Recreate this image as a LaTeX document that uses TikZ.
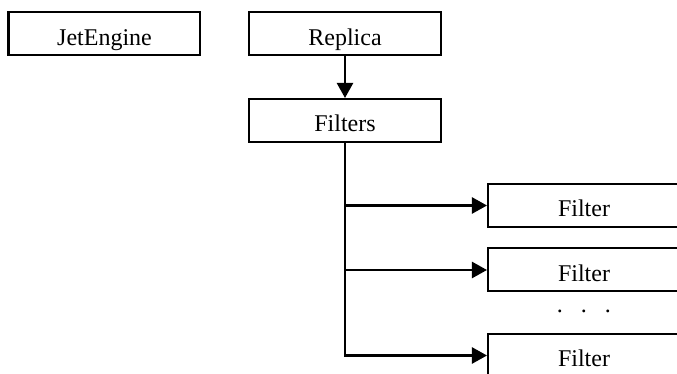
\documentclass[tikz,border=0pt]{standalone}
\usepackage{fontspec}
\setmainfont{Liberation Serif}
\usetikzlibrary{arrows.meta}
\begin{document}
\begin{tikzpicture}[x=0.5pt,y=-0.5pt,
    box/.style={draw, line width=1pt, minimum width=96pt, text height=16.5pt, text depth=5pt, inner sep=0pt, font=\fontsize{12}{14}\selectfont},
    link/.style={line width=1.2pt, -{Triangle[length=7.5pt,width=8pt]}}]
    \clip (0,0) rectangle (677,374);
    
    \node[box] (jet) at (104.5, 34) {JetEngine};
    \node[box] (rep) at (345, 34) {Replica};
    \node[box] (fs) at (345, 120.5) {Filters};
    
    \node[box] (f1) at (584, 205.5) {Filter};
    \node[box] (f2) at (584, 270) {Filter};
    \node[box] (f3) at (584, 355.5) {Filter};
    \node[font=\fontsize{12}{14}\selectfont, anchor=base] (dots) at (584, 313) {.\hspace{9pt}.\hspace{9pt}.};
    
    \draw[link] (rep) -- (fs);
    \draw[link] (fs.south) |- (f3.west);
    \foreach \f in {f1,f2} \draw[link] (fs.south |- \f.west) -- (\f.west);
\end{tikzpicture}
\end{document}
